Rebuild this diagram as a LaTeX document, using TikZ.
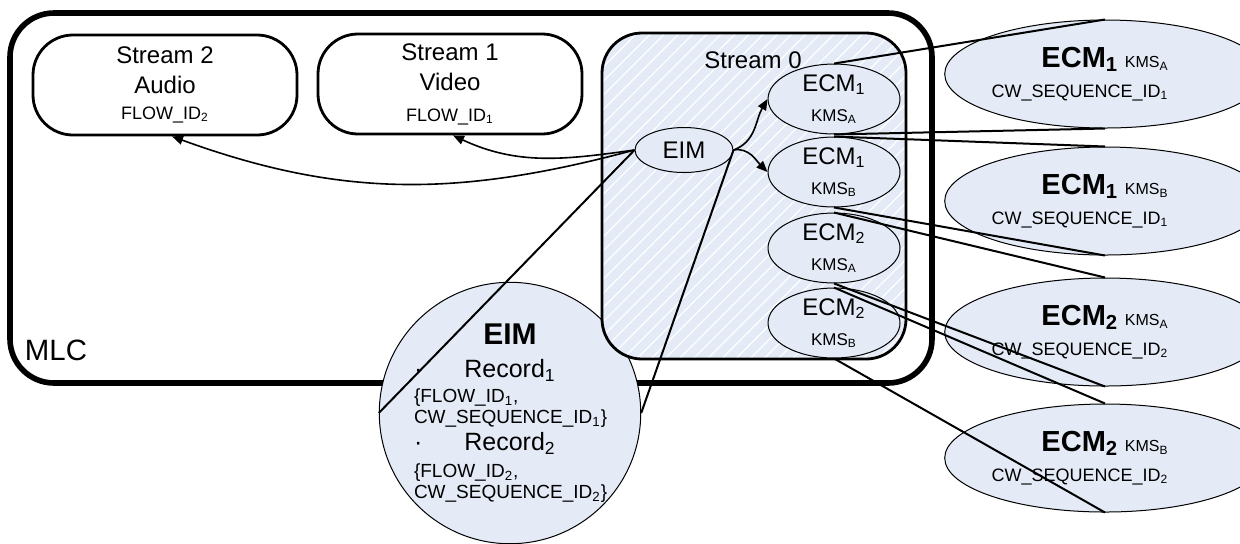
\documentclass[tikz,border=0pt]{standalone}
\usepackage{fontspec}
\setmainfont{Liberation Sans}
\usetikzlibrary{arrows.meta,positioning,shapes.geometric,patterns.meta}
\definecolor{paleblue}{RGB}{228,235,246}

\begin{document}
\begin{tikzpicture}[x=0.5pt, y=0.5pt,
      every node/.style={font=\fontsize{12}{15}\selectfont, inner sep=0pt},
      frame/.style={draw, rectangle, line width=2.8pt, rounded corners=22pt, minimum width=461pt, minimum height=185pt},
      stream/.style={draw, rectangle, line width=1.4pt, rounded corners=20pt, minimum width=132pt, minimum height=50pt, align=center},
      zone/.style={draw, rectangle, line width=1.4pt, rounded corners=20pt, minimum width=152pt, minimum height=163pt,
        preaction={fill=paleblue}, pattern={Lines[angle=45, distance=5pt, line width=0.6pt]}, pattern color=white},
      msg/.style={ellipse, draw, line width=0.5pt, fill=paleblue, minimum width=66pt, minimum height=32pt, align=center},
      detail/.style={ellipse, draw, line width=0.5pt, fill=paleblue, minimum width=144pt, minimum height=54pt, align=center},
      record/.style={circle, draw, line width=0.5pt, fill=paleblue, minimum size=127pt, align=center, font=\fontsize{9.5}{10.5}\selectfont},
      arrow/.style={-{Triangle[length=5.5pt, width=4.5pt]}, line width=0.8pt},
      link/.style={line width=1pt}
  ]
    \useasboundingbox (0,0) rectangle (1240,-543);
    \node[frame] (mlc) at (471,-198) {};
    \node[font=\fontsize{14.7}{16}\selectfont] (mlclabel) at (56,-350) {MLC};
    \node[stream] (audio) at (165,-85) {Stream 2\\Audio\\[-2pt]{\fontsize{9}{11}\selectfont FLOW\_ID\textsubscript{2}}};
    \node[stream] (video) at (450,-84) {Stream 1\\Video\\[0.5pt]{\fontsize{9}{11}\selectfont FLOW\_ID\textsubscript{1}}};
    \node[record] (eimrec) at (510,-413) {{\fontsize{15}{17}\selectfont\bfseries EIM}\\[6pt]
      \makebox[96pt][l]{\fontsize{12.5}{14}\selectfont ·\hfill Record\textsubscript{1}\hfill\phantom{·}}\\[2pt]
      \makebox[96pt][l]{\{FLOW\_ID\textsubscript{1},}\\
      \makebox[96pt][l]{CW\_SEQUENCE\_ID\textsubscript{1}\}}\\[1.5pt]
      \makebox[96pt][l]{\fontsize{12.5}{14}\selectfont ·\hfill Record\textsubscript{2}\hfill\phantom{·}}\\[3pt]
      \makebox[96pt][l]{\{FLOW\_ID\textsubscript{2},}\\
      \makebox[96pt][l]{CW\_SEQUENCE\_ID\textsubscript{2}\}}};
    \node[zone] (s0) at (754,-196) {};
    \node (s0label) at (753,-60) {Stream 0};
    \node[msg, minimum width=49pt, minimum height=22.5pt] (eim) at (684,-150) {EIM};
    \node[msg] (ecmoneA) at (834,-99) {ECM\textsubscript{1}\\{\fontsize{8.5}{10}\selectfont KMS\textsubscript{A}}};
    \node[msg] (ecmoneB) at (834,-172) {ECM\textsubscript{1}\\{\fontsize{8.5}{10}\selectfont KMS\textsubscript{B}}};
    \node[msg] (ecmtwoA) at (834,-248) {ECM\textsubscript{2}\\{\fontsize{8.5}{10}\selectfont KMS\textsubscript{A}}};
    \node[msg] (ecmtwoB) at (834,-323) {ECM\textsubscript{2}\\{\fontsize{8.5}{10}\selectfont KMS\textsubscript{B}}};
    \node[detail] (bigoneA) at (1105,-74) {{\fontsize{14.5}{16}\selectfont\bfseries ECM\textsubscript{1}} {\fontsize{8}{9}\selectfont KMS\textsubscript{A}}\\
      {\fontsize{9}{11}\selectfont CW\_SEQUENCE\_ID\textsubscript{1}\hspace*{25pt}}};
    \node[detail] (bigoneB) at (1105,-201) {{\fontsize{14.5}{16}\selectfont\bfseries ECM\textsubscript{1}} {\fontsize{8}{9}\selectfont KMS\textsubscript{B}}\\
      {\fontsize{9}{11}\selectfont CW\_SEQUENCE\_ID\textsubscript{1}\hspace*{25pt}}};
    \node[detail] (bigtwoA) at (1105,-332) {{\fontsize{14.5}{16}\selectfont\bfseries ECM\textsubscript{2}} {\fontsize{8}{9}\selectfont KMS\textsubscript{A}}\\
      {\fontsize{9}{11}\selectfont CW\_SEQUENCE\_ID\textsubscript{2}\hspace*{25pt}}};
    \node[detail] (bigtwoB) at (1105,-458) {{\fontsize{14.5}{16}\selectfont\bfseries ECM\textsubscript{2}} {\fontsize{8}{9}\selectfont KMS\textsubscript{B}}\\
      {\fontsize{9}{11}\selectfont CW\_SEQUENCE\_ID\textsubscript{2}\hspace*{25pt}}};
    \draw[arrow] (eim.west) to[out=195, in=-20] ([xshift=3.5pt]audio.south);
    \draw[arrow] (eim.west) to[out=188, in=-25] ([xshift=1.5pt]video.south);
    \draw[arrow] (eim.east) to[out=20, in=240] (ecmoneA.west);
    \draw[arrow] (eim.east) to[out=10, in=135] (ecmoneB.west);
    \draw[link] (eim.west) -- (eimrec.west);
    \draw[link] (eim.east) -- (eimrec.east);
    \draw[link] (ecmoneA.north) -- (bigoneA.north);
    \draw[link] (ecmoneA.south) -- (bigoneA.south);
    \draw[link] (ecmoneB.north) -- (bigoneB.north);
    \draw[link] (ecmoneB.south) -- (bigoneB.south);
    \draw[link] (ecmtwoA.north) -- (bigtwoA.north);
    \draw[link] (ecmtwoA.south) -- (bigtwoA.south);
    \draw[link] (ecmtwoB.north) -- (bigtwoB.north);
    \draw[link] (ecmtwoB.south) -- (bigtwoB.south);
  \end{tikzpicture}
\end{document}
